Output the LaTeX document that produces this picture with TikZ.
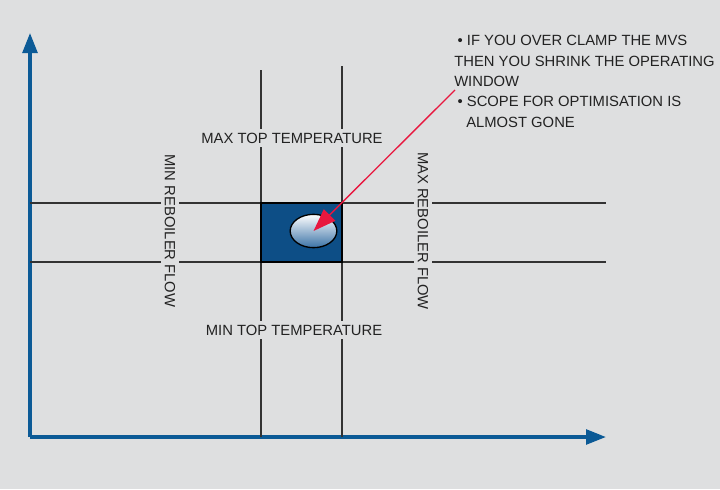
\documentclass[tikz,border=0pt]{standalone}
\usepackage{fontspec}
\setmainfont{Liberation Sans}
\usetikzlibrary{arrows.meta, shapes.geometric}
\definecolor{bggrey}{HTML}{DEDFE0}
\definecolor{axisblue}{HTML}{0B5A96}
\definecolor{boxblue}{HTML}{0D4E86}
\definecolor{ellblue}{HTML}{3A72A6}
\definecolor{gridgrey}{HTML}{333333}
\definecolor{txtgrey}{HTML}{222222}
\definecolor{arrred}{HTML}{E8173F}

\begin{document}
\begin{tikzpicture}[x=0.75pt, y=-0.75pt,
    every node/.style={text=txtgrey, font=\fontsize{11.1}{15.3}\selectfont, inner sep=0pt},
    label/.style={fill=bggrey, inner sep=2.5pt},
    axis/.style={draw=axisblue, line width=2.6pt, -{Triangle[length=15pt, width=11pt]}},
    grid/.style={draw=gridgrey, line width=1.1pt}]
    \useasboundingbox[fill=bggrey] (0,0) rectangle (720,489);
    % axes
    \coordinate (o) at (30,437);
    \coordinate (ytip) at (30,33);
    \coordinate (xtip) at (606,437);
    \draw[axis] (o)--(ytip);
    \draw[axis] (o)--(xtip);
    % constraint lines
    \draw[grid] (30,203)--(606,203);
    \draw[grid] (30,262)--(606,262);
    \draw[grid] (261,70)--(261,437);
    \draw[grid] (342,66)--(342,437);
    % operating window
    \node[draw=black, fill=boxblue, line width=1.1pt, minimum width=61pt, minimum height=44pt] (win) at (301.5,232.5) {};
    \node[draw=black, ellipse, line width=1pt, top color=white, bottom color=ellblue, minimum width=35pt, minimum height=25pt] (op) at (313.5,231) {};
    % labels
    \node[label] (maxtop) at (292,138) {MAX TOP TEMPERATURE};
    \node[label] (mintop) at (294,330) {MIN TOP TEMPERATURE};
    \node[label, rotate=-90] (minreb) at (170,231) {MIN REBOILER FLOW};
    \node[label, rotate=-90] (maxreb) at (423,231) {MAX REBOILER FLOW};
    \node[anchor=north west, align=left] (note) at (454,35) {\hspace*{2.5pt}\textbullet\ IF YOU OVER CLAMP THE MVS\\THEN YOU SHRINK THE OPERATING\\WINDOW\\\hspace*{2.5pt}\textbullet\ SCOPE FOR OPTIMISATION IS\\\hspace*{9pt}ALMOST GONE};
    \coordinate (tail) at (455,90);
    \draw[draw=arrred, line width=1pt, -{Triangle[length=17pt, width=12pt]}] (tail)--(op.center);
\end{tikzpicture}
\end{document}
